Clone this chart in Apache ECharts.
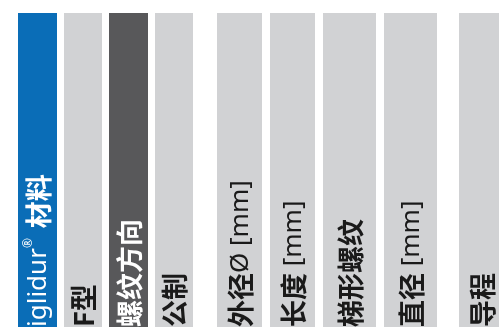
<!DOCTYPE html>
<html><head><meta charset="utf-8">
<script src="https://cdn.jsdelivr.net/npm/echarts@6/dist/echarts.min.js"></script>
<style>html,body{margin:0;padding:0;background:#fff}#c{width:499px;height:327px}</style>
</head><body><div id="c"></div>
<script>
// Table header columns (extent along the table width, in table units)
const headers = ['iglidur® 材料', 'F型', '螺纹方向', '公制', '外径Ø [mm]', '长度 [mm]', '梯形螺纹', '直径 [mm]', '导程'];
const colStart = [18, 64, 109, 155, 217, 270, 323, 384, 459];
const colEnd   = [57, 102, 148, 193, 262, 315, 376, 437, 505];
const colKind  = ['brand', 'plain', 'dark', 'plain', 'plain', 'plain', 'plain', 'plain', 'plain'];

const fills = { brand: '#0a6db7', dark: '#58585a', plain: '#d1d2d4' };
const inks  = { brand: '#ffffff', dark: '#ffffff', plain: '#1a1a1a' };

const data = headers.map((h, i) => [colStart[i], colEnd[i], i]);

// split a header into rich-text runs: CJK (and capital F) bold, the rest regular, ® small
function toRich(s) {
  let out = '', cur = null, buf = '';
  const flush = () => { if (buf) { out += '{' + cur + '|' + buf + '}'; buf = ''; } };
  for (const ch of s) {
    let k = /[\u3400-\u9fff]|F/.test(ch) ? 'b' : (ch === '®' ? 's' : 'r');
    if (k !== cur) { flush(); cur = k; }
    buf += ch;
  }
  flush();
  return out;
}

const chart = echarts.init(document.getElementById('c'), null, { renderer: 'canvas' });
chart.setOption({
  animation: false,
  grid: { left: 0, right: 0, top: 13, bottom: 0 },
  xAxis: { type: 'value', min: 0, max: 499, show: false },
  yAxis: { type: 'value', min: 0, max: 1, show: false },
  series: [{
    type: 'custom',
    data: data,
    renderItem: function (params, api) {
      const i = api.value(2);
      const p0 = api.coord([api.value(0), 1]);
      const p1 = api.coord([api.value(1), 0]);
      const kind = colKind[i];
      const cx = (p0[0] + p1[0]) / 2;
      const ink = inks[kind];
      const fam = '"Noto Sans CJK SC", "Noto Sans", sans-serif';
      return {
        type: 'group',
        children: [
          { type: 'rect', shape: { x: p0[0], y: p0[1], width: p1[0] - p0[0], height: p1[1] - p0[1] },
            style: { fill: fills[kind] } },
          { type: 'text', x: cx + 1, y: p1[1], rotation: Math.PI / 2,
            style: { text: toRich(headers[i]), fill: ink, align: 'left', verticalAlign: 'middle',
                     rich: {
                       b: { fontFamily: fam, fontWeight: 'bold', fontSize: 27, fill: ink, lineHeight: 32 },
                       r: { fontFamily: '"Noto Sans", sans-serif', fontWeight: 'normal', fontSize: 26, fill: ink, lineHeight: 32 },
                       s: { fontFamily: '"Noto Sans", sans-serif', fontWeight: 'normal', fontSize: 12, fill: ink, lineHeight: 32, verticalAlign: 'top', padding: [0, 3, 0, 0] }
                     } } }
        ]
      };
    }
  }]
});
</script></body></html>
